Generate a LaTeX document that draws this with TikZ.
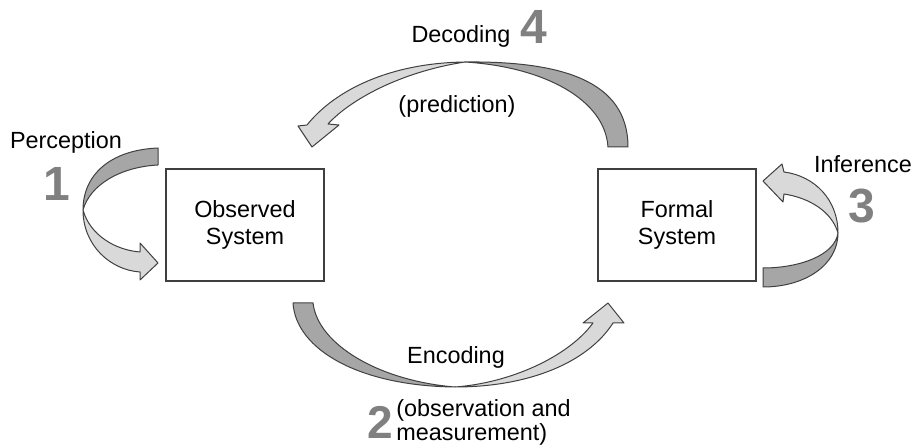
\documentclass[tikz,border=0pt]{standalone}
\usepackage{fontspec}
\setmainfont{Liberation Sans}
\usepackage{tikz}
\usetikzlibrary{positioning}
\definecolor{darkband}{HTML}{A6A6A6}
\definecolor{lightband}{HTML}{D9D9D9}
\definecolor{rimline}{HTML}{404040}
\definecolor{numgray}{HTML}{808080}
\definecolor{boxline}{HTML}{3F3F3F}

\begin{document}
\begin{tikzpicture}[x=0.5pt,y=-0.5pt,
  sysbox/.style={shape=rectangle,draw=boxline,line width=0.6pt,minimum width=79pt,minimum height=56pt,align=center,font=\fontsize{11.7}{13.5}\selectfont},
  lbl/.style={inner sep=0pt,font=\fontsize{11.7}{12}\selectfont},
  stepnum/.style={inner sep=0pt,text=numgray,font=\fontsize{24}{24}\selectfont\bfseries},
  back/.style={fill=darkband,draw=rimline,line width=0.5pt,line join=round},
  front/.style={fill=lightband,draw=rimline,line width=0.5pt,line join=round}]
  \useasboundingbox (0,0) rectangle (918,448);

  \node[sysbox] (observed) at (245,225) {Observed\\System};
  \node[sysbox] (formal) at (677,225) {Formal\\System};

  \draw[back] (158,148) .. controls (110,150) and (83,175) .. (83,210) .. controls (90,185) and (120,167) .. (158,165) -- cycle;
  \draw[front] (83,210) .. controls (83,245) and (110,270) .. (140,272) -- (140,280) -- (158,263) -- (140,243) -- (140,252) .. controls (115,250) and (90,235) .. (83,210) -- cycle;
  \node[lbl] (perc) at (66,142) {Perception};
  \node[stepnum] (one) at (57,184) {1};

  \draw[back] (293,303) .. controls (296,350) and (360,386) .. (455,387) .. controls (380,381) and (318,345) .. (313,303) -- cycle;
  \draw[front] (455,387) .. controls (530,387) and (588,362) .. (613,323) -- (624,323) -- (608,303) -- (583,323) -- (593,323) .. controls (568,357) and (510,383) .. (455,387) -- cycle;
  \node[lbl] (enc) at (456,357) {Encoding};
  \node[stepnum,font=\fontsize{23}{23}\selectfont\bfseries] (two) at (380,422) {2};
  \node[lbl,anchor=west,align=left] (obs) at (396,422) {(observation and\\measurement)};

  \draw[back] (763,268) .. controls (800,268) and (835,255) .. (838,233) .. controls (838,265) and (805,287) .. (763,287) -- cycle;
  \draw[front] (838,233) .. controls (838,200) and (815,176) .. (784,172) -- (782,164) -- (763,181) -- (783,202) -- (784,194) .. controls (810,198) and (832,212) .. (838,233) -- cycle;
  \node[lbl] (inf) at (863,164) {Inference};
  \node[stepnum] (three) at (862,206) {3};

  \draw[back] (628,147) .. controls (628,80) and (560,61) .. (465,62) .. controls (545,67) and (605,100) .. (608,147) -- cycle;
  \draw[front] (465,62) .. controls (390,63) and (335,90) .. (307,125) -- (298,126) -- (312,147) -- (339,125) -- (328,124) .. controls (350,100) and (400,72) .. (465,62) -- cycle;
  \node[lbl] (dec) at (461,36) {Decoding};
  \node[stepnum] (four) at (534,27) {4};
  \node[lbl] (pred) at (457,106) {(prediction)};

\end{tikzpicture}
\end{document}
